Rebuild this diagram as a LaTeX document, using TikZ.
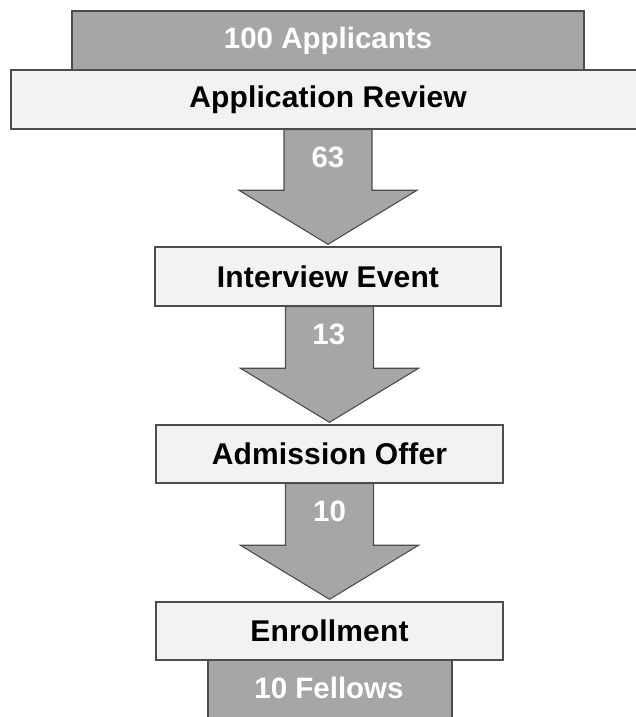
\documentclass[tikz,border=0pt]{standalone}
\usepackage{fontspec}
\setmainfont{Liberation Sans}
\usetikzlibrary{calc}
\definecolor{boxgray}{HTML}{A6A6A6}
\definecolor{boxlight}{HTML}{F2F2F2}
\definecolor{edgegray}{HTML}{4D4D4D}
\newcommand\flowarrow[4]{%
  \draw[flow] let \p1=(#1.south), \p2=(#2.north) in
    (\x2-44pt,\y1) -- (\x2+44pt,\y1) -- (\x2+44pt,\y2+56pt) -- (\x2+89pt,\y2+56pt)
    -- (\x2,\y2+2pt) -- (\x2-89pt,\y2+56pt) -- (\x2-44pt,\y2+56pt) -- cycle;
  \node[num] (#4) at ($(#1.south)!0.5!(#1.south -| #2.north)+(0,-28)$) {#3};
}
\begin{document}
\begin{tikzpicture}[x=1pt,y=1pt,
  stage/.style={draw=edgegray, line width=1.4pt, fill=boxlight, inner sep=0pt,
    minimum height=59pt, font=\fontsize{30}{33}\selectfont\bfseries\addfontfeature{LetterSpace=0.5}},
  count/.style={draw=edgegray, line width=1.4pt, fill=boxgray, text=white, inner sep=0pt,
    minimum height=59pt, font=\fontsize{29.5}{33}\selectfont\bfseries},
  flow/.style={draw=edgegray, line width=1.1pt, fill=boxgray, line join=miter},
  num/.style={text=white, inner sep=0pt, font=\fontsize{29.5}{33}\selectfont\bfseries}]
\useasboundingbox (0,0) rectangle (636,717);
\node[count, minimum width=512pt] (applicants) at (328,676.5) {100 Applicants};
\node[stage, minimum width=634pt] (review) at (328,617.5) {Application Review};
\node[stage, minimum width=346pt] (interview) at (328,440.5) {Interview Event};
\node[stage, minimum width=347pt, minimum height=58pt] (offer) at (329.5,263) {Admission Offer};
\node[count, minimum width=244pt, minimum height=81pt, text depth=0pt] (fellows) at (330,17.5) {};
\node[text=white, inner sep=0pt, font=\fontsize{29.5}{33}\selectfont\bfseries] (fellowstext) at (329,29) {10 Fellows};
\node[stage, minimum width=347pt, minimum height=58pt] (enroll) at (329.5,86) {Enrollment};
\flowarrow{review}{interview}{63}{n63}
\flowarrow{interview}{offer}{13}{n13}
\flowarrow{offer}{enroll}{10}{n10}
\end{tikzpicture}
\end{document}
